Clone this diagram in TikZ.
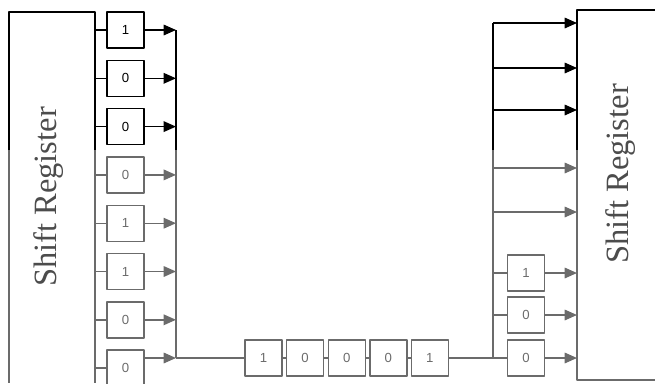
\documentclass[tikz,border=0pt]{standalone}
\usepackage{fontspec}
\setmainfont{Liberation Serif}
\newfontfamily\bitfont{Liberation Sans}
\usetikzlibrary{arrows.meta}
\definecolor{faded}{gray}{0.42}
\tikzset{
	bit/.style={draw, inner sep=0pt, minimum width=0.74cm, minimum height=0.72cm, font=\bitfont\fontsize{7.5}{9}\selectfont},
	regtext/.style={rotate=90, text=black!70, font=\fontsize{18.5}{20}\selectfont}
}
\begin{document}
\begin{tikzpicture}[x=0.02cm, y=-0.02cm, line width=0.8pt, line join=round, >={Triangle[length=7pt,width=6pt]}]
	\useasboundingbox (0,0) rectangle (655,383);
	
	% left register
	\draw (95,150) -- (95,12) -- (9,12) -- (9,150);
	\draw[faded] (95,150) -- (95,383);
	\draw[faded] (9,150) -- (9,383);
	\node[regtext] (lreg) at (49,197) {Shift Register};
	
	\coordinate (ljoin) at (176,358);
	\foreach \b [count=\i] in {1,0,0,0,1,1,0,0} {
		\ifnum\i<4 \def\col{black}\else\def\col{faded}\fi
		\pgfmathsetmacro\y{30+48.3*(\i-1)}
		\pgfmathsetmacro\ay{min(\y,358)}
		\node[bit, draw=\col, text=\col] (l\i) at (125.5,\y) {\b};
		\draw[\col] (95,\y) -- (l\i.west);
		\draw[\col,->] (l\i.east |- 0,\ay) -- (176,\ay);
	}
	\draw (176,30) -- (176,150);
	\draw[faded] (176,150) -- (ljoin);
	
	% serial line
	\foreach \b [count=\i] in {1,0,0,0,1}
		\node[bit, faded] (c\i) at ({263.5+41.6*(\i-1)},358) {\b};
	\draw[faded] (ljoin) -- (c1.west);
	\foreach \i [evaluate=\i as \j using int(\i+1)] in {1,...,4}
		\draw[faded] (c\i.east) -- (c\j.west);
	
	% right register
	\coordinate (rjoin) at (493,358);
	\node[bit, faded] (r1) at (526,273) {1};
	\node[bit, faded] (r2) at (526,315) {0};
	\node[bit, faded] (r3) at (526,358) {0};
	\draw[faded] (c5.east) -- (rjoin) -- (r3.west);
	\draw (493,23) -- (493,150);
	\draw[faded] (493,150) -- (rjoin);
	\foreach \y in {23,68,110} \draw[->] (493,\y) -- (577,\y);
	\foreach \y in {168,212} \draw[faded,->] (493,\y) -- (577,\y);
	\foreach \i in {1,2} \draw[faded] (r\i.west -| rjoin) -- (r\i.west);
	\foreach \i in {1,2,3} \draw[faded,->] (r\i.east) -- (r\i.east -| 577,0);
	\draw (655,10) -- (577,10) -- (577,150);
	\draw[faded] (577,150) -- (577,380) -- (655,380);
	\node[regtext] (rreg) at (621,174) {Shift Register};
\end{tikzpicture}
\end{document}
